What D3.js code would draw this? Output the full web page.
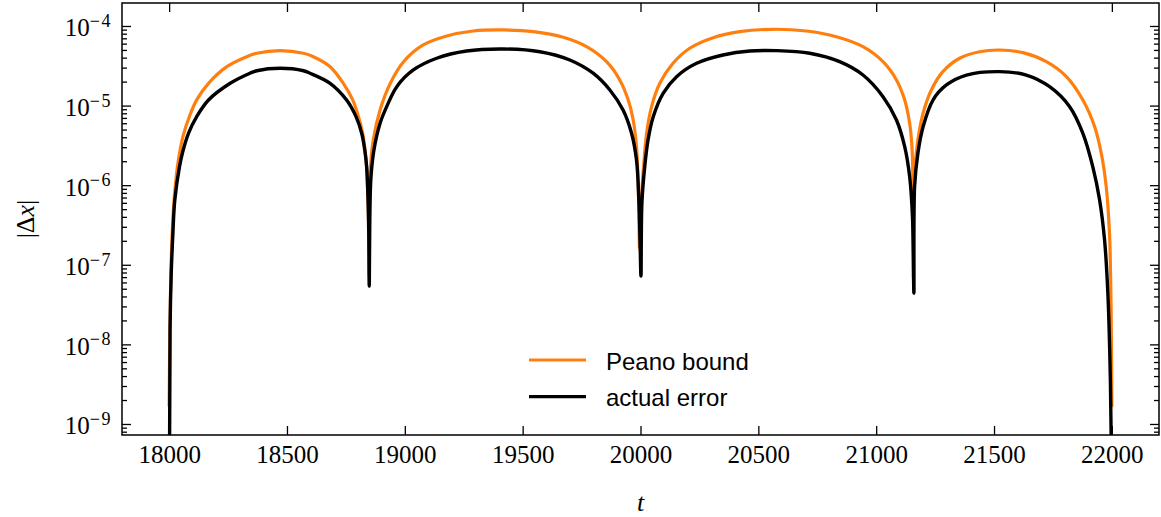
<!DOCTYPE html>
<html><head><meta charset="utf-8">
<script src="https://cdn.jsdelivr.net/npm/d3@7"></script>
<style>body{margin:0;background:#fff} svg{display:block}</style>
</head><body>
<svg id="c" width="1161" height="517"></svg>
<script>
// ---- data ----
const peanoT = [18000,18003,18007,18013,18021,18035,18047,18061,18086,18117,18167,18245,18329,18372,18471,18570,18612,18683,18739,18779,18803,18821,18831,18838,18844,18847,18849,
  18852,18855,18866,18895,18937,18994,19078,19178,19290,19418,19545,19672,19771,19856,19912,19948,19969,19983,19990,19993,19996,
  20003,20011,20026,20047,20082,20138,20209,20308,20421,20562,20704,20831,20944,21029,21086,21121,21142,21150,21154,21156,21158,
  21163,21177,21199,21234,21283,21354,21439,21524,21623,21722,21807,21877,21927,21955,21976,21990,21994,21997,22000];
const peanoV = [1.7e-9,1.3e-8,7.0e-8,2.5e-7,6.5e-7,1.7e-6,2.8e-6,4.35e-6,7.3e-6,1.18e-5,1.9e-5,3.08e-5,4.11e-5,4.54e-5,4.9e-5,4.54e-5,4.11e-5,3.08e-5,1.9e-5,1.18e-5,7.3e-6,4.5e-6,2.8e-6,1.7e-6,6.5e-7,2.5e-7,7.1e-8,
  5.0e-7,1.79e-6,3.7e-6,8.8e-6,1.87e-5,3.53e-5,5.77e-5,7.48e-5,8.65e-5,8.91e-5,8.48e-5,7.21e-5,5.5e-5,3.56e-5,2.1e-5,1.175e-5,6.6e-6,3.05e-6,1.06e-6,4.5e-7,1.6e-7,
  6.0e-7,1.41e-6,4.49e-6,9.7e-6,1.905e-5,3.4e-5,5.25e-5,7.13e-5,8.48e-5,9.09e-5,8.65e-5,7.34e-5,5.5e-5,3.56e-5,2.1e-5,1.175e-5,6.0e-6,3.6e-6,2.2e-6,8.0e-7,6.8e-8,
  1.41e-6,3.7e-6,8.0e-6,1.57e-5,2.67e-5,3.93e-5,4.75e-5,4.99e-5,4.62e-5,3.56e-5,2.31e-5,1.175e-5,5.43e-6,2.52e-6,9.6e-7,2.48e-7,9.0e-8,2.5e-8,1.7e-9];
const errorT = [18000,18004,18009,18016,18024,18044,18058,18082,18117,18167,18259,18343,18372,18471,18570,18598,18683,18753,18793,18817,18830,18838,18844,18847,18849,
  18852,18857,18869,18895,18923,18966,19036,19135,19262,19418,19573,19700,19799,19870,19926,19962,19983,19993,19998,20002,
  20006,20018,20032,20054,20096,20153,20238,20350,20464,20577,20718,20845,20944,21029,21086,21121,21142,21154,21160,
  21163,21177,21199,21241,21298,21383,21524,21637,21736,21821,21877,21919,21948,21969,21983,21992,21997,22000];
const errorV = [1e-12,1.6e-8,8.0e-8,2.5e-7,6.5e-7,1.71e-6,2.65e-6,4.49e-6,7.26e-6,1.175e-5,1.905e-5,2.55e-5,2.74e-5,2.94e-5,2.74e-5,2.55e-5,1.905e-5,1.175e-5,7.26e-6,4.49e-6,2.77e-6,1.71e-6,6.5e-7,2.5e-7,5.4e-8,
  5.5e-7,1.34e-6,2.77e-6,6.0e-6,9.7e-6,1.73e-5,2.8e-5,3.93e-5,4.85e-5,5.14e-5,4.75e-5,3.74e-5,2.55e-5,1.57e-5,8.8e-6,4.49e-6,2.07e-6,6.5e-7,2.0e-7,7.2e-8,
  6.0e-7,1.71e-6,3.7e-6,7.26e-6,1.427e-5,2.31e-5,3.4e-5,4.32e-5,4.85e-5,4.9e-5,4.54e-5,3.56e-5,2.42e-5,1.294e-5,6.59e-6,3.05e-6,1.28e-6,4.0e-7,4.4e-8,
  9.6e-7,2.52e-6,5.43e-6,1.175e-5,1.815e-5,2.42e-5,2.67e-5,2.42e-5,1.727e-5,9.7e-6,4.49e-6,1.71e-6,6.5e-7,2.05e-7,4.4e-8,6.0e-9,7.0e-10,1e-12];
const xTicks = [18000,18500,19000,19500,20000,20500,21000,21500,22000];
const yMajorExps = [-9,-8,-7,-6,-5,-4];
const seriesNames = ["Peano bound","actual error"];
const seriesColors = ["#ff7f0e","#000000"];

// ---- layout ----
const m = {left:122, right:1159, top:3, bottom:435};
const svg = d3.select("#c");
const x = d3.scaleLinear().domain([17800,22200]).range([m.left,m.right]);
const y = d3.scaleLog().domain([7.27e-10,1.944e-4]).range([m.bottom,m.top]);
const serif = "'Liberation Serif', 'DejaVu Serif', serif";
const sans = "'Liberation Sans', Arial, sans-serif";

svg.append("defs").append("clipPath").attr("id","clip")
  .append("rect").attr("x",m.left).attr("y",m.top).attr("width",m.right-m.left).attr("height",m.bottom-m.top);

const series = [
  {name:seriesNames[0], color:seriesColors[0], pts:peanoT.map((t,i)=>[t,peanoV[i]]), w:3.2},
  {name:seriesNames[1], color:seriesColors[1], pts:errorT.map((t,i)=>[t,errorV[i]]), w:3.4}
];
const line = d3.line().x(d=>x(d[0])).y(d=>y(d[1])).curve(d3.curveCatmullRom.alpha(0.5));
const g = svg.append("g").attr("clip-path","url(#clip)");
series.forEach(s=>{
  g.append("path").attr("d",line(s.pts)).attr("fill","none")
   .attr("stroke",s.color).attr("stroke-width",s.w).attr("stroke-linejoin","round").attr("stroke-linecap","round");
});

// ---- axes ----
const yMajor = yMajorExps.map(e=>Math.pow(10,e));
const yMinor = y.ticks().filter(v=>{const mant=v/Math.pow(10,Math.floor(Math.log10(v)+1e-9)); return Math.abs(mant-1)>1e-6;});
function styleAxis(sel){
  sel.select(".domain").remove();
  sel.selectAll(".tick line").attr("stroke","#000").attr("stroke-width",1.3);
}
// bottom
svg.append("g").attr("transform",`translate(0,${m.bottom})`)
  .call(d3.axisBottom(x).tickValues(xTicks).tickSize(-9).tickPadding(10).tickFormat(d3.format("d")))
  .call(styleAxis)
  .call(s=>s.selectAll("text").attr("font-family",serif).attr("font-size",25).attr("fill","#000"));
// top
svg.append("g").attr("transform",`translate(0,${m.top})`)
  .call(d3.axisTop(x).tickValues(xTicks).tickSize(-9).tickFormat(""))
  .call(styleAxis);
// left major
svg.append("g").attr("transform",`translate(${m.left},0)`)
  .call(d3.axisLeft(y).tickValues(yMajor).tickSize(-9).tickPadding(10).tickFormat(""))
  .call(styleAxis)
  .call(s=>s.selectAll(".tick").each(function(d){
     const t = d3.select(this).select("text");
     t.attr("font-family",serif).attr("font-size",25).attr("fill","#000").attr("dy","0.4em");
     t.text("10");
     t.append("tspan").attr("font-size",18).attr("dy",-9.5).attr("letter-spacing",1.5)
       .text("\u2212"+Math.abs(Math.round(Math.log10(d))));
  }));
// left minor
svg.append("g").attr("transform",`translate(${m.left},0)`)
  .call(d3.axisLeft(y).tickValues(yMinor).tickSize(-5).tickFormat(""))
  .call(styleAxis);
// right major + minor
svg.append("g").attr("transform",`translate(${m.right},0)`)
  .call(d3.axisRight(y).tickValues(yMajor).tickSize(-9).tickFormat(""))
  .call(styleAxis);
svg.append("g").attr("transform",`translate(${m.right},0)`)
  .call(d3.axisRight(y).tickValues(yMinor).tickSize(-5).tickFormat(""))
  .call(styleAxis);

// frame
svg.append("rect").attr("x",m.left).attr("y",m.top).attr("width",m.right-m.left).attr("height",m.bottom-m.top)
  .attr("fill","none").attr("stroke","#000").attr("stroke-width",1.5);

// axis labels
svg.append("text").attr("x",(m.left+m.right)/2).attr("y",511).attr("text-anchor","middle")
  .attr("font-family",serif).attr("font-size",26).attr("font-style","italic").text("t");
const yl = svg.append("text").attr("transform",`translate(34,${(m.top+m.bottom)/2}) rotate(-90)`)
  .attr("text-anchor","middle").attr("font-family",serif).attr("font-size",26);
yl.append("tspan").text("|\u0394");
yl.append("tspan").attr("font-style","italic").text("x");
yl.append("tspan").text("|");

// legend
const lg = svg.append("g");
series.forEach((s,i)=>{
  const ly = 360 + i*36.7;
  lg.append("line").attr("x1",529).attr("x2",586).attr("y1",ly).attr("y2",ly)
    .attr("stroke",s.color).attr("stroke-width",3.2);
  lg.append("text").attr("x",606).attr("y",ly+9.5).attr("font-family",sans).attr("font-size",24)
    .attr("fill","#000").text(s.name);
});
</script>
</body></html>
